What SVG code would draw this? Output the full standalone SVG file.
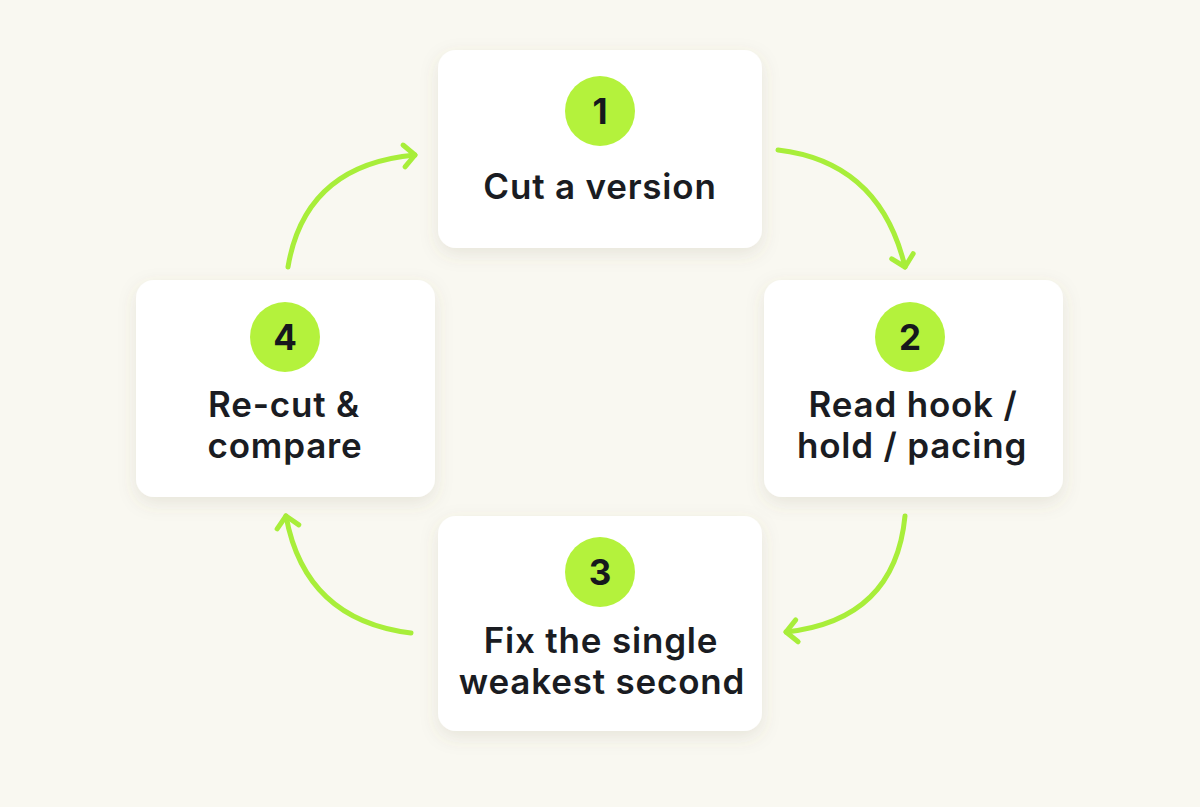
<svg xmlns="http://www.w3.org/2000/svg" width="1200" height="807" viewBox="0 0 1200 807">
<style>
.card{fill:#ffffff;filter:url(#sh)}
.badge{fill:#b4f23c}
.num{font-family:Inter,"Liberation Sans",sans-serif;font-weight:700;font-size:35px;fill:#16181d;text-anchor:middle}
.lbl{font-family:Inter,"Liberation Sans",sans-serif;font-weight:600;font-size:35px;letter-spacing:0.8px;fill:#1a1c22;text-anchor:middle}
.arr{fill:none;stroke:#a8ee3a;stroke-width:5;stroke-linecap:round;marker-end:url(#chev)}
</style>
<defs>
<filter id="sh" x="-20%" y="-20%" width="140%" height="150%">
<feDropShadow dx="0" dy="6" stdDeviation="9" flood-color="#6b6440" flood-opacity="0.13"/>
</filter>
<marker id="chev" markerUnits="userSpaceOnUse" markerWidth="30" markerHeight="30" viewBox="-15 -15 30 30" refX="0" refY="0" orient="auto">
<path d="M-11,-11 L0,0 L-11,11" fill="none" stroke="#a8ee3a" stroke-width="5" stroke-linecap="round" stroke-linejoin="round"/>
</marker>
</defs>
<rect width="1200" height="807" fill="#f9f8f1"/>
<g id="connectors">
<path class="arr" d="M778,150 Q880,162 905,267"/>
<path class="arr" d="M905,516 Q895,620 786,632"/>
<path class="arr" d="M411,633 Q305,620 286,516"/>
<path class="arr" d="M288,267 Q305,165 415,155"/>
</g>
<g id="node1">
<rect class="card" x="438" y="50" width="324" height="198" rx="18"/>
<circle class="badge" cx="600" cy="111" r="35"/>
<text class="num" x="600" y="124">1</text>
<text class="lbl" x="600" y="199">Cut a version</text>
</g>
<g id="node2">
<rect class="card" x="764" y="280" width="299" height="217" rx="18"/>
<circle class="badge" cx="910" cy="337" r="35"/>
<text class="num" x="910" y="350">2</text>
<text class="lbl" x="913" y="417">Read hook /</text>
<text class="lbl" x="912" y="458">hold / pacing</text>
</g>
<g id="node3">
<rect class="card" x="438" y="516" width="324" height="215" rx="18"/>
<circle class="badge" cx="600" cy="572" r="35"/>
<text class="num" x="600" y="585">3</text>
<text class="lbl" x="601" y="653">Fix the single</text>
<text class="lbl" x="602" y="694">weakest second</text>
</g>
<g id="node4">
<rect class="card" x="136" y="280" width="299" height="217" rx="18"/>
<circle class="badge" cx="285" cy="337" r="35"/>
<text class="num" x="285" y="350">4</text>
<text class="lbl" x="284" y="417">Re-cut &amp;</text>
<text class="lbl" x="285" y="458">compare</text>
</g>
</svg>
